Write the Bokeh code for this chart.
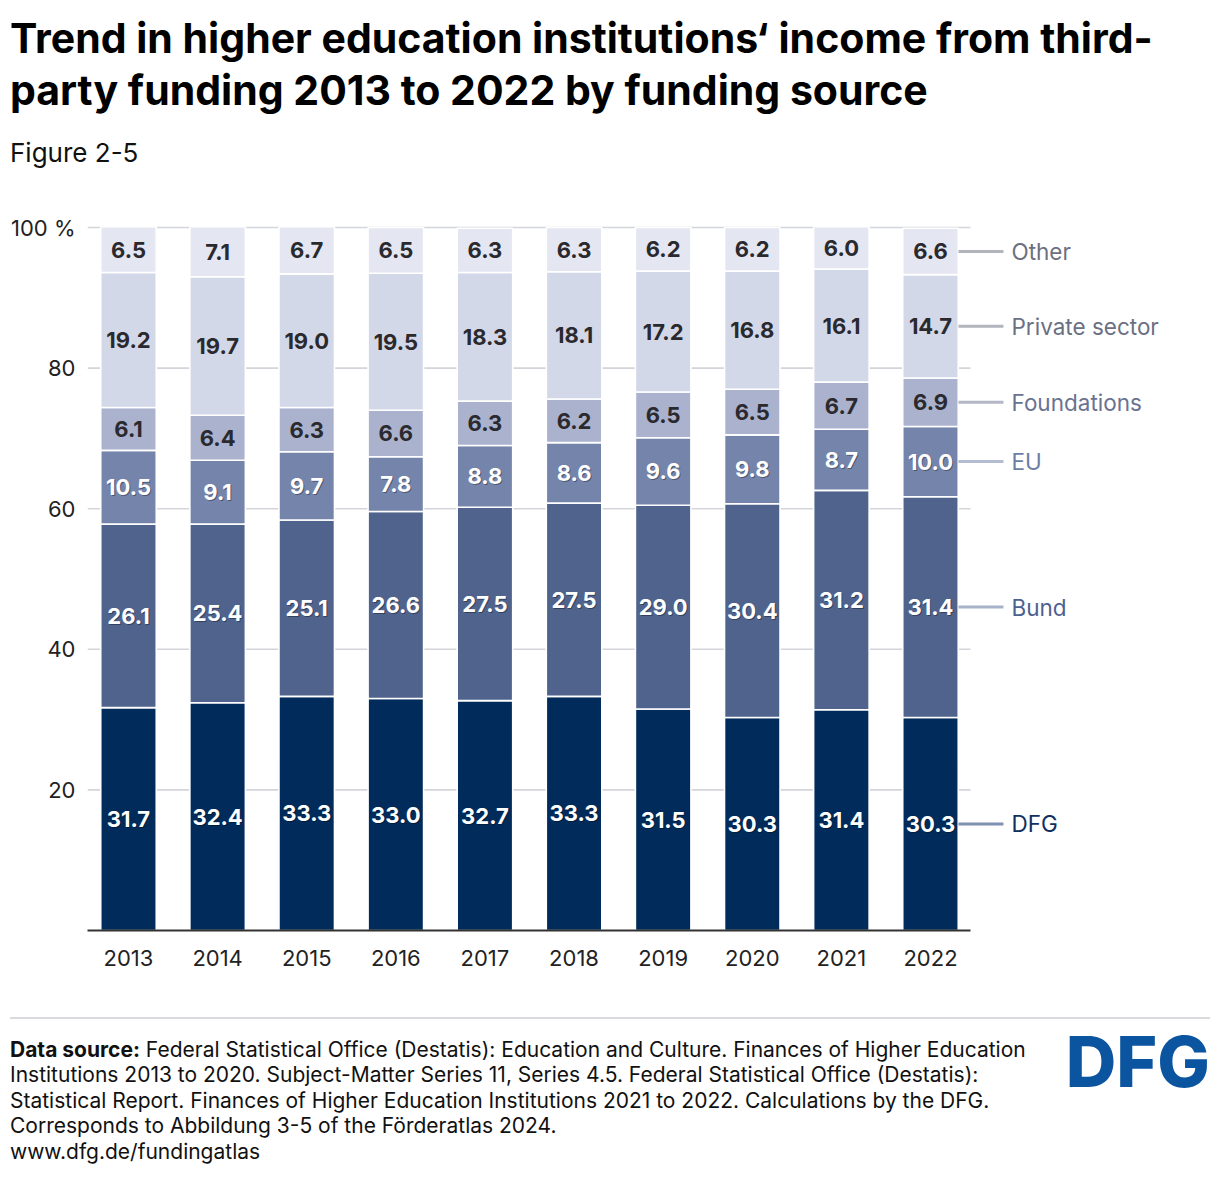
from bokeh.plotting import figure
from bokeh.models import Range1d, FixedTicker, ColumnDataSource, Div
from bokeh.layouts import column
from bokeh.core.properties import value
from bokeh.embed import file_html
from bokeh.resources import INLINE

# ---------------- data ----------------
years = ["2013", "2014", "2015", "2016", "2017", "2018", "2019", "2020", "2021", "2022"]
series_names = ["DFG", "Bund", "EU", "Foundations", "Private sector", "Other"]
dfg = [31.7, 32.4, 33.3, 33.0, 32.7, 33.3, 31.5, 30.3, 31.4, 30.3]
bund = [26.1, 25.4, 25.1, 26.6, 27.5, 27.5, 29.0, 30.4, 31.2, 31.4]
eu = [10.5, 9.1, 9.7, 7.8, 8.8, 8.6, 9.6, 9.8, 8.7, 10.0]
foundations = [6.1, 6.4, 6.3, 6.6, 6.3, 6.2, 6.5, 6.5, 6.7, 6.9]
private = [19.2, 19.7, 19.0, 19.5, 18.3, 18.1, 17.2, 16.8, 16.1, 14.7]
other = [6.5, 7.1, 6.7, 6.5, 6.3, 6.3, 6.2, 6.2, 6.0, 6.6]
y_ticks = [20, 40, 60, 80, 100]
y_tick_labels = {20: "20", 40: "40", 60: "60", 80: "80", 100: "100 %"}

series_values = [dfg, bund, eu, foundations, private, other]

title_lines = ["Trend in higher education institutions\u2018 income from third-",
               "party funding 2013 to 2022 by funding source"]
subtitle = "Figure 2-5"
source_label = "Data source:"
footer_lines = [
    "Federal Statistical Office (Destatis): Education and Culture. Finances of Higher Education",
    "Institutions 2013 to 2020. Subject-Matter Series 11, Series 4.5. Federal Statistical Office (Destatis):",
    "Statistical Report. Finances of Higher Education Institutions 2021 to 2022. Calculations by the DFG.",
    "Corresponds to Abbildung 3-5 of the F\u00f6rderatlas 2024.",
    "www.dfg.de/fundingatlas",
]
logo_text = "DFG"

# ---------------- styles ----------------
FONT = "Inter"
bar_colors = ["#012b5a", "#4f638d", "#7584aa", "#aab2ce", "#d3d8e9", "#e4e6f1"]
label_colors = ["#ffffff", "#ffffff", "#ffffff", "#2a2a2e", "#2a2a2e", "#2a2a2e"]
label_shadow = [True, True, True, False, False, False]
legend_text_colors = ["#102f5e", "#4d6190", "#6d7da5", "#6a7290", "#6b7082", "#6b6f80"]
legend_line_colors = ["#7f90b0", "#a8b3c9", "#b3bcd1", "#b3b7c6", "#b3b5bd", "#b3b5bc"]

W = 1216
TOP_H, MAIN_H, BOT_H = 200, 800, 176

# ---------------- header (HTML) ----------------
header_html = (
    f'<div style="position:relative;width:{W}px;height:{TOP_H}px;font-family:{FONT};">'
    f'<div style="position:absolute;left:10px;top:12px;white-space:nowrap;font-size:41px;'
    f'line-height:52px;font-weight:bold;color:#000;">{title_lines[0]}<br>{title_lines[1]}</div>'
    f'<div style="position:absolute;left:10px;top:137px;white-space:nowrap;font-size:26px;'
    f'line-height:32px;color:#111;">{subtitle}</div>'
    '</div>'
)
header = Div(text=header_html, width=W, height=TOP_H, margin=(0, 0, 0, 0))

# ---------------- main chart ----------------
LEFT = 87
FR_TOP = 10          # frame top inside the main figure (screen y 210)
FR_BOTTOM = 70       # frame bottom at screen y 930
frame_w = W - LEFT
frame_h = MAIN_H - FR_TOP - FR_BOTTOM
PX_Y = 7.03      # px per percentage point
PX_X = 89.11     # px per year slot
x0 = -41 / PX_X

p = figure(width=W, height=MAIN_H, output_backend="svg", toolbar_location=None,
           x_range=Range1d(x0, x0 + frame_w / PX_X),
           y_range=Range1d(0, frame_h / PX_Y),
           min_border_left=LEFT, min_border_right=0, min_border_top=FR_TOP,
           min_border_bottom=FR_BOTTOM, background_fill_color="white",
           border_fill_color="white", margin=(0, 0, 0, 0))
p.outline_line_color = None
p.xgrid.visible = False
p.ygrid.visible = False

n = len(years)
xs = list(range(n))
x_left = x0
x_right = (n - 1) + 0.449

# gridlines (behind bars)
p.segment(x0=[x_left] * len(y_ticks), x1=[x_right] * len(y_ticks), y0=y_ticks, y1=y_ticks,
          line_color="#d3d5da", line_width=1.6)

# stacked bars
bottom = [0.0] * n
mids_all = []
for i, vals in enumerate(series_values):
    tops = [b + v for b, v in zip(bottom, vals)]
    mids = [(b + t) / 2 for b, t in zip(bottom, tops)]
    mids_all.append(mids)
    src = ColumnDataSource(dict(x=xs, bottom=bottom, top=tops, mid=mids,
                                lab=["%.1f" % v for v in vals]))
    p.vbar(x="x", bottom="bottom", top="top", width=0.623, source=src,
           fill_color=bar_colors[i], line_color="white", line_width=1.6)
    if label_shadow[i]:
        p.text(x="x", y="mid", text="lab", source=src, text_align="center",
               text_baseline="middle", text_font=value(FONT), text_font_style="bold",
               text_font_size="22px", text_color="#000000", text_alpha=0.35,
               x_offset=1, y_offset=1)
    p.text(x="x", y="mid", text="lab", source=src, text_align="center",
           text_baseline="middle", text_font=value(FONT), text_font_style="bold",
           text_font_size="22px", text_color=label_colors[i])
    bottom = tops

# legend connectors + names, at the middle of each 2022 segment
last = n - 1
lx0 = last + 0.314
lx1 = last + 0.819
ltx = last + 0.909
for i, name in enumerate(series_names):
    ym = mids_all[i][last]
    p.segment(x0=[lx0], x1=[lx1], y0=[ym], y1=[ym], line_color=legend_line_colors[i], line_width=3)
    p.text(x=[ltx], y=[ym], text=[name], text_align="left", text_baseline="middle",
           text_font=value(FONT), text_font_size="22.5px", text_color=legend_text_colors[i])

# axes
p.yaxis.ticker = FixedTicker(ticks=y_ticks)
p.yaxis.major_label_overrides = y_tick_labels
p.yaxis.axis_line_color = None
p.yaxis.major_tick_line_color = None
p.yaxis.minor_tick_line_color = None
p.yaxis.major_tick_out = 0
p.yaxis.major_tick_in = 0
p.yaxis.minor_tick_out = 0
p.yaxis.major_label_text_font = FONT
p.yaxis.major_label_text_font_size = "22px"
p.yaxis.major_label_text_color = "#222222"
p.yaxis.major_label_standoff = 12

p.xaxis.ticker = FixedTicker(ticks=xs)
p.xaxis.major_label_overrides = {i: y for i, y in enumerate(years)}
p.xaxis.bounds = (x_left, x_right)
p.xaxis.axis_line_color = "#333333"
p.xaxis.axis_line_width = 2
p.xaxis.major_tick_line_color = None
p.xaxis.minor_tick_line_color = None
p.xaxis.major_label_text_font = FONT
p.xaxis.major_label_text_font_size = "22px"
p.xaxis.major_label_text_color = "#222222"
p.xaxis.major_label_standoff = 13

# ---------------- footer (HTML) ----------------
lines_html = (f'<b>{source_label}</b> {footer_lines[0]}<br>' +
              '<br>'.join(footer_lines[1:]))
footer_html = (
    f'<div style="position:relative;width:{W}px;height:{BOT_H}px;font-family:{FONT};">'
    '<div style="position:absolute;left:10px;top:17px;width:1200px;height:2px;background:#d8dade;"></div>'
    '<div style="position:absolute;left:10px;top:36.6px;white-space:nowrap;font-size:21px;'
    f'line-height:25.5px;color:#111;">{lines_html}</div>'
    '<div style="position:absolute;right:6px;top:26.6px;white-space:nowrap;font-size:70px;'
    f'line-height:70px;font-weight:800;color:#0a54a0;">{logo_text}</div>'
    '</div>'
)
footer = Div(text=footer_html, width=W, height=BOT_H, margin=(0, 0, 0, 0))

layout = column(header, p, footer, spacing=0)
open("out.html", "w").write(file_html(layout, INLINE))
